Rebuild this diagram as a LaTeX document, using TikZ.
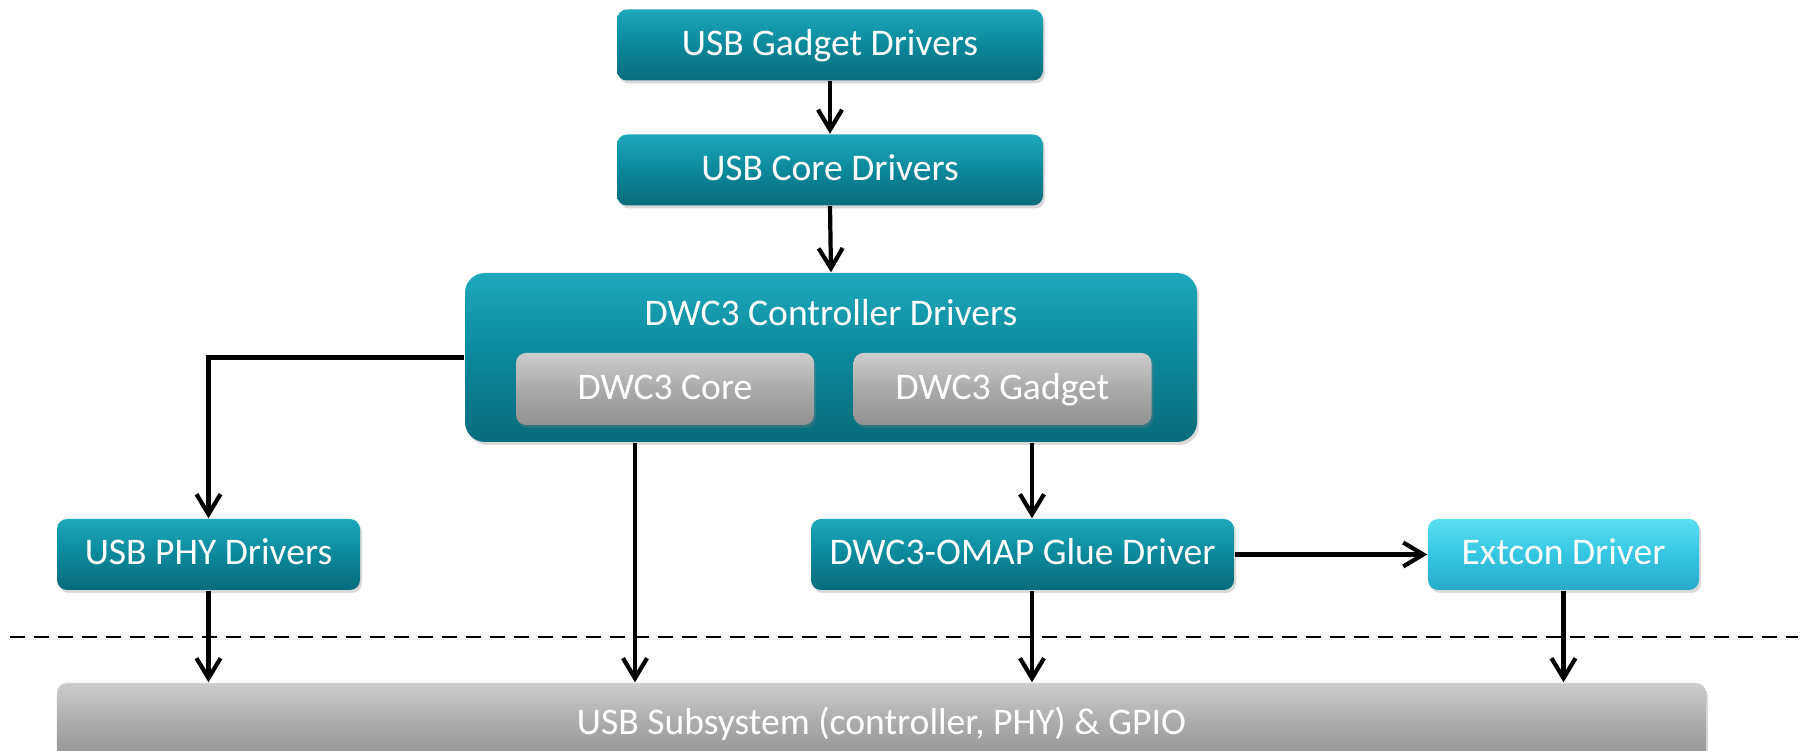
\documentclass[tikz,border=0pt]{standalone}
\usepackage{fontspec}
\setmainfont{Carlito}
\usetikzlibrary{arrows.meta,shadows}
\definecolor{tealtop}{RGB}{30,168,188}
\definecolor{tealmid}{RGB}{11,136,155}
\definecolor{tealbot}{RGB}{8,108,124}
\definecolor{cyantop}{RGB}{90,222,242}
\definecolor{cyanmid}{RGB}{52,198,226}
\definecolor{cyanbot}{RGB}{38,170,200}
\definecolor{graytop}{RGB}{205,205,205}
\definecolor{graymid}{RGB}{170,170,170}
\definecolor{graybot}{RGB}{145,145,145}

\begin{document}
\begin{tikzpicture}[>={Straight Barb[length=2mm,width=2.4mm]},
  box/.style={rounded corners=0.1cm,draw=none,text=white,font=\fontsize{10.7}{12}\selectfont,inner sep=0pt,text height=1.45ex,text depth=0.2ex,drop shadow={shadow xshift=0.02cm,shadow yshift=-0.03cm,opacity=0.3}},
  tealbox/.style={box,top color=tealtop,bottom color=tealbot,middle color=tealmid},
  cyanbox/.style={box,top color=cyantop,bottom color=cyanbot,middle color=cyanmid},
  graybox/.style={box,top color=graytop,bottom color=graybot,middle color=graymid},
  link/.style={->,line width=1.2pt},
  boundary/.style={line width=0.6pt,dash pattern=on 0.15cm off 0.09cm}]
\useasboundingbox (0,0) rectangle (18.09,7.51);
\coordinate (dashL) at (0.10,1.14);
\coordinate (dashR) at (17.98,1.14);
\draw[boundary] (dashL) -- (dashR);
\node[tealbox,minimum width=4.26cm,minimum height=0.71cm] (gadget) at (8.30,7.06) {USB Gadget Drivers};
\node[tealbox,minimum width=4.26cm,minimum height=0.71cm] (core) at (8.30,5.81) {USB Core Drivers};
\node[tealbox,rounded corners=0.2cm,minimum width=7.32cm,minimum height=1.69cm] (dwc) at (8.31,3.935) {};
\node[text=white,font=\fontsize{10.7}{12}\selectfont] (dwctitle) at (8.31,4.38) {DWC3 Controller Drivers};
\node[graybox,minimum width=2.98cm,minimum height=0.72cm] (dwccore) at (6.65,3.62) {DWC3 Core};
\node[graybox,minimum width=2.98cm,minimum height=0.72cm] (dwcgadget) at (10.025,3.62) {DWC3 Gadget};
\node[tealbox,minimum width=3.03cm,minimum height=0.71cm] (phy) at (2.085,1.965) {USB PHY Drivers};
\node[tealbox,minimum width=4.23cm,minimum height=0.71cm] (glue) at (10.225,1.965) {DWC3-OMAP Glue Driver};
\node[cyanbox,minimum width=2.71cm,minimum height=0.71cm] (extcon) at (15.635,1.965) {Extcon Driver};
\node[graybox,minimum width=16.49cm,minimum height=0.82cm] (subsys) at (8.815,0.27) {USB Subsystem (controller, PHY) \& GPIO};
\coordinate (tapcore) at (6.35,0);
\coordinate (tapglue) at (10.32,0);
\draw[link] (gadget.south) -- (core.north);
\draw[link] (core.south) -- (dwc.north);
\draw[link] (dwc.west) -| (phy.north);
\draw[link] (dwc.south -| tapcore) -- (tapcore |- subsys.north);
\draw[link] (dwc.south -| tapglue) -- (tapglue |- glue.north);
\draw[link] (glue.south -| tapglue) -- (tapglue |- subsys.north);
\draw[link] (glue.east) -- (extcon.west);
\draw[link] (phy.south) -- (phy.south |- subsys.north);
\draw[link] (extcon.south) -- (extcon.south |- subsys.north);
\end{tikzpicture}
\end{document}
